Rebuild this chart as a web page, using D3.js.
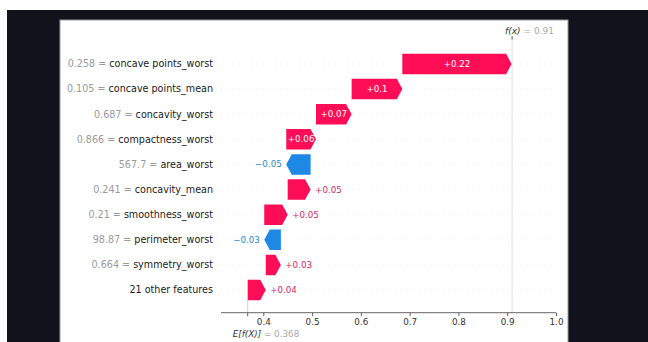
<!DOCTYPE html>
<html>
<head>
<meta charset="utf-8">
<script src="https://cdn.jsdelivr.net/npm/d3@7"></script>
<style>
  html, body { margin: 0; padding: 0; background: #ffffff; }
  svg { display: block; }
  text { font-family: "DejaVu Sans", sans-serif; }
</style>
</head>
<body>
<svg id="chart" width="648" height="342"></svg>
<script>
// ---- data ----
const features = [
  "concave points_worst", "concave points_mean", "concavity_worst",
  "compactness_worst", "area_worst", "concavity_mean",
  "smoothness_worst", "perimeter_worst", "symmetry_worst", "21 other features"
];
const featureValues = ["0.258", "0.105", "0.687", "0.866", "567.7", "0.241", "0.21", "98.87", "0.664", null];
const shapValues = [0.224, 0.104, 0.073, 0.061, -0.05, 0.047, 0.048, -0.034, 0.031, 0.037];
const baseValue = 0.368;
const fxValue = 0.91;
const xTicks = [0.4, 0.5, 0.6, 0.7, 0.8, 0.9, 1.0];

// ---- colours ----
const RED = "#ff0d57", BLUE = "#1e88e5";
const RED_TXT = "#d42a65", BLUE_TXT = "#2a88d0";

const svg = d3.select("#chart");

// frame (photo background)
svg.append("rect").attr("x", 7).attr("y", 10).attr("width", 641).attr("height", 332).attr("fill", "#10131b");
svg.append("rect").attr("x", 60).attr("y", 20).attr("width", 508).attr("height", 330)
  .attr("fill", "#ffffff").attr("stroke", "#9a9a9a").attr("stroke-width", 1);

// scales
const x = d3.scaleLinear().domain([0.3133, 1.0]).range([221, 556]);
const y = d3.scalePoint().domain(d3.range(features.length)).range([64, 290]);
const axisY = 312.7, plotTop = 37;
const barH = 20.5, headLen = 5.5;

// cumulative positions (waterfall builds from the bottom row up)
const bars = [];
let cum = baseValue;
for (let i = features.length - 1; i >= 0; i--) {
  const start = cum, end = cum + shapValues[i];
  bars.push({ i, start, end, v: shapValues[i] });
  cum = end;
}

const g = svg.append("g");

// dashed row grid lines
g.selectAll("line.grid").data(d3.range(features.length)).join("line")
  .attr("x1", x.range()[0]).attr("x2", x.range()[1])
  .attr("y1", d => y(d)).attr("y2", d => y(d))
  .attr("stroke", "#e4e4e4").attr("stroke-width", 0.7).attr("stroke-dasharray", "1,5");

// vertical reference lines
g.append("line").attr("x1", x(fxValue)).attr("x2", x(fxValue))
  .attr("y1", plotTop).attr("y2", axisY).attr("stroke", "#d6d6d6").attr("stroke-width", 0.8);
g.append("line").attr("x1", x(baseValue)).attr("x2", x(baseValue))
  .attr("y1", y(features.length - 1) + barH / 2).attr("y2", axisY).attr("stroke", "#c8c8c8").attr("stroke-width", 0.8);

// bars as arrows
function arrowPath(d) {
  const yc = y(d.i), h = barH / 2;
  const x0 = x(d.start), x1 = x(d.end);
  const dir = x1 >= x0 ? 1 : -1;
  const hl = Math.min(Math.abs(x1 - x0), headLen);
  const xb = x1 - dir * hl;
  return `M${x0},${yc - h}L${xb},${yc - h}L${x1},${yc}L${xb},${yc + h}L${x0},${yc + h}Z`;
}
g.selectAll("path.bar").data(bars).join("path")
  .attr("d", arrowPath)
  .attr("fill", d => d.v >= 0 ? RED : BLUE);

// value labels
const fmt = v => d3.format("+.2f")(v).replace(/0+$/, "").replace(/\.$/, "");
bars.forEach(d => {
  const t = g.append("text")
    .attr("font-size", 8.7)
    .attr("dy", "0.35em")
    .attr("y", y(d.i))
    .text(fmt(d.v));
  const len = t.node().getComputedTextLength();
  const w = Math.abs(x(d.end) - x(d.start));
  if (len < w) {
    t.attr("x", (x(d.start) + x(d.end)) / 2).attr("text-anchor", "middle").attr("fill", "#ffffff");
  } else if (d.v >= 0) {
    t.attr("x", x(d.end) + 4.5).attr("text-anchor", "start").attr("fill", RED_TXT);
  } else {
    t.attr("x", x(d.end) - 4.5).attr("text-anchor", "end").attr("fill", BLUE_TXT);
  }
});

// row labels
features.forEach((f, i) => {
  const t = g.append("text")
    .attr("x", 213).attr("y", y(i)).attr("dy", "0.35em")
    .attr("text-anchor", "end").attr("font-size", 9.6);
  if (featureValues[i] !== null) {
    t.append("tspan").attr("fill", "#9a9a9a").text(featureValues[i] + " = ");
  }
  t.append("tspan").attr("fill", "#1a1a1a").text(f);
});

// bottom axis
const axis = d3.axisBottom(x).tickValues(xTicks).tickSize(3.5).tickPadding(2.5)
  .tickFormat(d3.format(".1f"));
const ax = svg.append("g").attr("transform", `translate(0,${axisY})`).call(axis);
ax.select(".domain").attr("stroke", "#555").attr("stroke-width", 0.9).attr("d", `M${x.range()[0]},0H${x.range()[1]}`);
ax.selectAll(".tick line").attr("stroke", "#555").attr("stroke-width", 0.9);
ax.selectAll(".tick text").attr("font-size", 8.8).attr("fill", "#333")
  .attr("font-family", "DejaVu Sans, sans-serif");

// base value tick + label
svg.append("line").attr("x1", x(baseValue)).attr("x2", x(baseValue))
  .attr("y1", axisY).attr("y2", axisY + 3.5).attr("stroke", "#555").attr("stroke-width", 0.9);
const eLab = svg.append("text").attr("x", x(baseValue) - 15).attr("y", 333.5).attr("dy", "0.35em")
  .attr("font-size", 8.8);
eLab.append("tspan").attr("fill", "#333").attr("font-style", "italic").text("E[f(X)]");
eLab.append("tspan").attr("fill", "#aaaaaa").text(" = " + baseValue);

// f(x) tick + label on top
svg.append("line").attr("x1", x(fxValue)).attr("x2", x(fxValue))
  .attr("y1", plotTop - 1).attr("y2", plotTop + 2.5).attr("stroke", "#555").attr("stroke-width", 0.9);
const fLab = svg.append("text").attr("x", x(fxValue) - 7).attr("y", 30.5).attr("dy", "0.35em")
  .attr("font-size", 9);
fLab.append("tspan").attr("fill", "#333").attr("font-style", "italic").text("f(x)");
fLab.append("tspan").attr("fill", "#aaaaaa").text(" = " + fxValue);
</script>
</body>
</html>
